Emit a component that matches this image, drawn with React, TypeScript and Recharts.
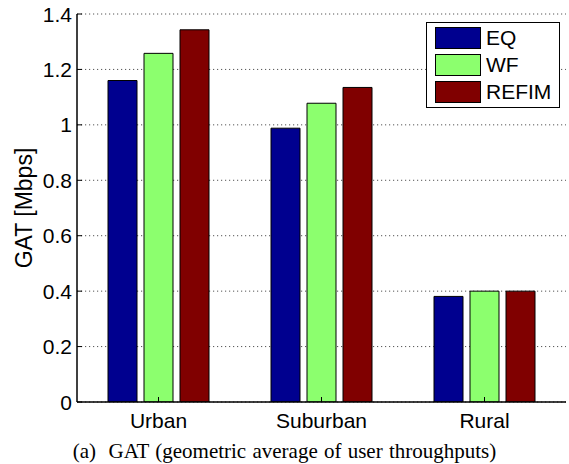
import React from 'react';
import { BarChart, Bar, XAxis, YAxis, CartesianGrid, Legend } from 'recharts';

const categories = ['Urban', 'Suburban', 'Rural'];
const eqValues = [1.16, 0.988, 0.381];
const wfValues = [1.258, 1.078, 0.4];
const refimValues = [1.343, 1.135, 0.4];
const yTicks = [0, 0.2, 0.4, 0.6, 0.8, 1, 1.2, 1.4];
const seriesNames = ['EQ', 'WF', 'REFIM'];
const seriesColors = ['#00008F', '#8CFF6E', '#800000'];

const data = categories.map((name, i) => ({
  name,
  EQ: eqValues[i],
  WF: wfValues[i],
  REFIM: refimValues[i],
}));

const FONT = '"Liberation Sans", Arial, Helvetica, sans-serif';

const LeftTick = (props: any) => {
  const { x, y, payload } = props;
  return (
    <g>
      <line x1={x} y1={y} x2={x + 5} y2={y} stroke="#000" strokeWidth={1} />
      <text x={x - 5} y={y} textAnchor="end" dominantBaseline="central" fontFamily={FONT} fontSize={21} fill="#000">
        {String(payload.value)}
      </text>
    </g>
  );
};

const RightTick = (props: any) => {
  const { x, y } = props;
  return <line x1={x} y1={y} x2={x - 5} y2={y} stroke="#000" strokeWidth={1} />;
};

const BottomTick = (props: any) => {
  const { x, y, payload } = props;
  return (
    <g>
      <line x1={x} y1={y} x2={x} y2={y - 5} stroke="#000" strokeWidth={1} />
      <text x={x} y={y + 26} textAnchor="middle" fontFamily={FONT} fontSize={21} fill="#000">
        {payload.value}
      </text>
    </g>
  );
};

const TopTick = (props: any) => {
  const { x, y } = props;
  return <line x1={x} y1={y} x2={x} y2={y + 5} stroke="#000" strokeWidth={1} />;
};

const YLabel = (props: any) => {
  const { viewBox } = props;
  const cx = 24;
  const cy = viewBox.y + viewBox.height / 2;
  return (
    <text
      x={cx}
      y={cy}
      transform={`rotate(-90, ${cx}, ${cy})`}
      textAnchor="middle"
      dominantBaseline="central"
      fontFamily={FONT}
      fontSize={23}
      fill="#000"
    >
      GAT [Mbps]
    </text>
  );
};

const LegendBox = () => (
  <div
    style={{
      width: 132,
      height: 84,
      border: '1px solid #000',
      background: '#fff',
      boxSizing: 'content-box',
      position: 'relative',
    }}
  >
    {seriesNames.map((n, i) => (
      <div
        key={n}
        style={{
          position: 'absolute',
          left: 8,
          top: 4 + i * 27,
          height: 22,
          display: 'flex',
          alignItems: 'center',
        }}
      >
        <div
          style={{
            width: 44,
            height: 20,
            background: seriesColors[i],
            border: '1px solid #000',
          }}
        />
        <span
          style={{
            marginLeft: 5,
            fontFamily: FONT,
            fontSize: 21,
            color: '#000',
            lineHeight: '22px',
          }}
        >
          {n}
        </span>
      </div>
    ))}
  </div>
);

export default function App() {
  return (
    <div style={{ position: 'relative', width: 569, height: 464, background: '#fff' }}>
      <style>{`body{margin:0;background:#fff;}`}</style>
      <BarChart
        width={569}
        height={464}
        data={data}
        margin={{ top: 14, right: 3, bottom: 0, left: 0 }}
        barSize={29}
        barGap={7}
      >
        <CartesianGrid
          horizontal={true}
          vertical={false}
          stroke="#555"
          strokeDasharray="1.2 2.8"
        />
        <XAxis
          dataKey="name"
          height={62}
          tickSize={0}
          tickMargin={0}
          tick={<BottomTick />}
          axisLine={{ stroke: '#000', strokeWidth: 1.5 }}
          tickLine={false}
          interval={0}
        />
        <XAxis
          xAxisId="top"
          dataKey="name"
          orientation="top"
          height={0}
          tickSize={0}
          tickMargin={0}
          tick={<TopTick />}
          axisLine={{ stroke: '#000', strokeWidth: 1 }}
          tickLine={false}
          interval={0}
        />
        <YAxis
          width={77}
          domain={[0, 1.4]}
          ticks={yTicks}
          type="number"
          tickSize={0}
          tickMargin={0}
          tick={<LeftTick />}
          axisLine={{ stroke: '#000', strokeWidth: 1.5 }}
          tickLine={false}
          interval={0}
          allowDataOverflow
          label={<YLabel />}
        />
        <YAxis
          yAxisId="right"
          orientation="right"
          width={0}
          domain={[0, 1.4]}
          ticks={yTicks}
          type="number"
          tickSize={0}
          tickMargin={0}
          tick={<RightTick />}
          axisLine={{ stroke: '#000', strokeWidth: 1 }}
          tickLine={false}
          interval={0}
        />
        <Legend
          layout="vertical"
          align="center"
          verticalAlign="middle"
          wrapperStyle={{ position: 'absolute', left: 426, top: 22, width: 134, height: 86 }}
          content={<LegendBox />}
        />
        {seriesNames.map((n, i) => (
          <Bar
            key={n}
            dataKey={n}
            fill={seriesColors[i]}
            stroke="#000"
            strokeWidth={1}
            isAnimationActive={false}
          />
        ))}
      </BarChart>
      <div
        style={{
          position: 'absolute',
          left: 0,
          width: 569,
          top: 439,
          textAlign: 'center',
          fontFamily: '"Liberation Serif", "Times New Roman", serif',
          fontSize: 21,
          lineHeight: '24px',
          color: '#000',
          wordSpacing: 1,
        }}
      >
        (a)&nbsp; GAT (geometric average of user throughputs)
      </div>
    </div>
  );
}
